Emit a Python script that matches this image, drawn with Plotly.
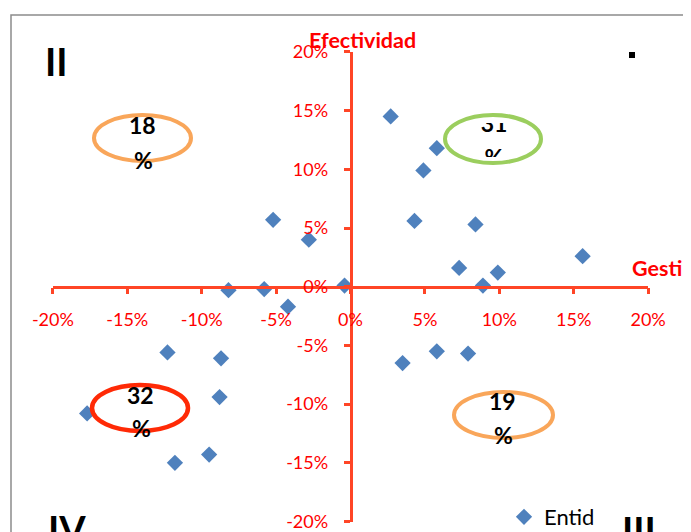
import plotly.graph_objects as go

# ---- data (fractions) ----
gestion = [0.027, 0.058, 0.049, -0.052, -0.028, 0.043, 0.084, 0.156, 0.073, 0.099, 0.089, -0.004,
           -0.082, -0.058, -0.042, -0.123, -0.087, 0.035, 0.058, 0.079, -0.177, -0.088, -0.118, -0.095]
efectividad = [0.145, 0.118, 0.099, 0.057, 0.040, 0.056, 0.053, 0.026, 0.016, 0.012, 0.001, 0.001,
               -0.003, -0.002, -0.017, -0.056, -0.061, -0.065, -0.055, -0.057, -0.108, -0.094, -0.150, -0.143]
series_name = "Entid"
quadrant_labels = ["18\n%", "31\n%", "32\n%", "19\n%"]
roman = ["II", "IV", "III"]
tick_vals = [-0.20, -0.15, -0.10, -0.05, 0.0, 0.05, 0.10, 0.15, 0.20]
tick_labels = ["-20%", "-15%", "-10%", "-5%", "0%", "5%", "10%", "15%", "20%"]

W, H = 691, 532
OX, OY = 8, 8   # page body margin compensation
FONT = "Lato"
AX = "#FF4526"


def px(x):
    return (x - OX) / W


def py(y):
    return 1 - (y - OY) / H


fig = go.Figure()
fig.add_trace(go.Scatter(
    x=gestion, y=efectividad, mode="markers", name=series_name,
    marker=dict(symbol="diamond", size=12.5, color="#4F81BD"),
    showlegend=True,
))

# "31 %" label is drawn as a text trace so that it can be partly masked (clipped in reference)
l31 = quadrant_labels[1].split("\n")
fig.add_trace(go.Scatter(
    x=[(494 - 350.5) / 1488.0, (494 - 350.5) / 1488.0],
    y=[(286.7 - 126) / 1174.0, (286.7 - 160) / 1174.0],
    mode="text", text=l31, textposition="middle center",
    textfont=dict(family=FONT, size=23, color="black", weight="bold"),
    showlegend=False, hoverinfo="skip", cliponaxis=False,
))

shapes = []
# chart border
shapes.append(dict(type="rect", xref="paper", yref="paper", x0=px(11), x1=px(720), y0=py(15), y1=py(560),
                   line=dict(color="#8C8C8C", width=1.5), fillcolor="rgba(0,0,0,0)", layer="below"))
# masks for clipped "31 %"
shapes.append(dict(type="rect", xref="paper", yref="paper", x0=px(474), x1=px(516), y0=py(100), y1=py(123),
                   line=dict(width=0), fillcolor="white", layer="above"))
shapes.append(dict(type="rect", xref="paper", yref="paper", x0=px(474), x1=px(516), y0=py(157), y1=py(180),
                   line=dict(width=0), fillcolor="white", layer="above"))
# ellipses
ell = [((92, 113, 193, 163), "#F9A65A", 4),
       ((443, 113, 543, 165), "#9BCE5E", 4),
       ((90, 383, 190, 433), "#FF2A06", 4.5),
       ((452, 390, 555, 440), "#F9A65A", 4)]
for (x0, y0, x1, y1), c, w in ell:
    shapes.append(dict(type="circle", xref="paper", yref="paper",
                       x0=px(x0 + 2), x1=px(x1 - 2), y0=py(y0 + 2), y1=py(y1 - 2),
                       line=dict(color=c, width=w), layer="above"))
# clipped "I" remnant
shapes.append(dict(type="rect", xref="paper", yref="paper", x0=px(629), x1=px(635), y0=py(52), y1=py(58),
                   line=dict(width=0), fillcolor="black", layer="above"))

ann = []
bold = dict(family=FONT, size=23, color="black", weight="bold")
label_pos = [(142, 123.5, 143, 159), None, (140, 393.5, 141, 427), (502, 400, 503, 434)]
for lab, pos in zip(quadrant_labels, label_pos):
    if pos is None:
        continue
    a, b = lab.split("\n")
    ann.append(dict(text=a, x=px(pos[0]), y=py(pos[1] + 1), xref="paper", yref="paper",
                    showarrow=False, font=bold, xanchor="center", yanchor="middle"))
    ann.append(dict(text=b, x=px(pos[2]), y=py(pos[3] + 1), xref="paper", yref="paper",
                    showarrow=False, font=bold, xanchor="center", yanchor="middle"))

rom_font = dict(family=FONT, size=38, color="black", weight="bold")
for t, (x, y) in zip(roman, [(56.5, 61), (66.5, 529), (639, 530)]):
    ann.append(dict(text=t, x=px(x), y=py(y), xref="paper", yref="paper", showarrow=False,
                    font=rom_font, xanchor="center", yanchor="middle"))

title_font = dict(family=FONT, size=21.5, color="red", weight="bold")
ann.append(dict(text="Efectividad", x=px(362.5), y=py(40), xref="paper", yref="paper", showarrow=False,
                font=title_font, xanchor="center", yanchor="middle"))
ann.append(dict(text="Gesti", x=px(630), y=py(268), xref="paper", yref="paper", showarrow=False,
                font=title_font, xanchor="left", yanchor="middle"))

axis_common = dict(
    range=[-0.2, 0.2], tickvals=tick_vals, ticktext=tick_labels,
    showline=True, linecolor=AX, linewidth=2.5,
    ticks="outside", ticklen=6, tickwidth=2.5, tickcolor=AX,
    showgrid=False, zeroline=False,
    tickfont=dict(family=FONT, size=18, color="red"),
    fixedrange=True,
)

fig.update_layout(
    width=W, height=H,
    margin=dict(l=0, r=0, t=0, b=0, autoexpand=False),
    paper_bgcolor="white", plot_bgcolor="white",
    xaxis=dict(domain=[px(52.9), px(648.1)], anchor="free", position=py(286.7),
               side="bottom", ticklabelstandoff=10, **axis_common),
    yaxis=dict(domain=[py(521.5), py(51.9)], anchor="free", position=px(350.5),
               side="left", ticklabelstandoff=12, **axis_common),
    shapes=shapes,
    annotations=ann,
    legend=dict(x=px(504), y=py(517), xanchor="left", yanchor="middle",
                bgcolor="rgba(0,0,0,0)", font=dict(family=FONT, size=22, color="black"),
                itemwidth=30),
    showlegend=True,
    font=dict(family=FONT),
)

fig.write_html("out.html")
